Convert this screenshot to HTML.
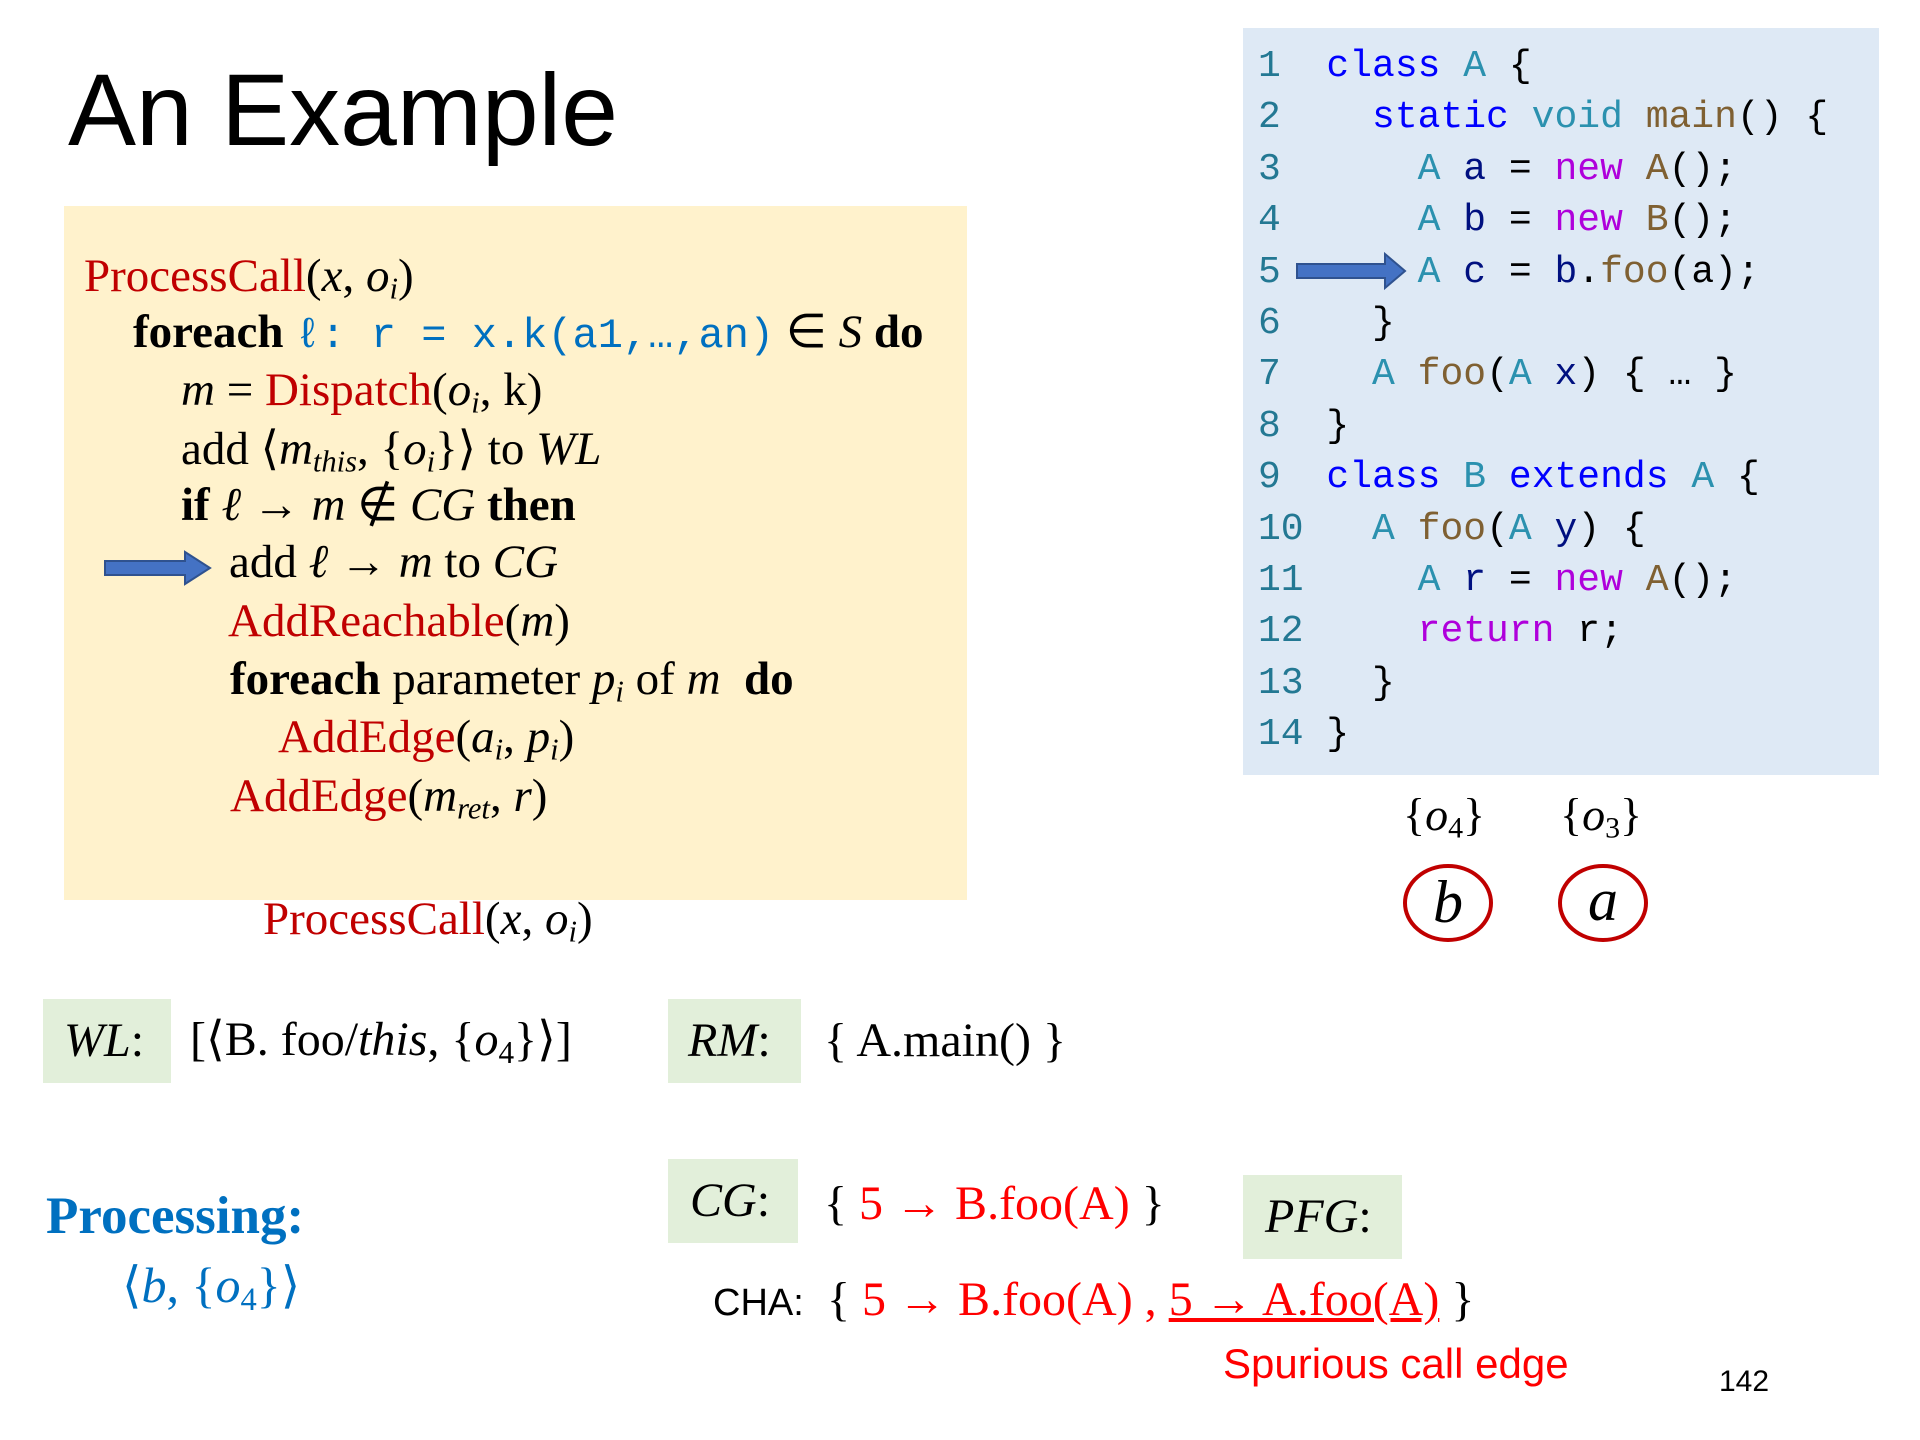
<!DOCTYPE html>
<html><head><meta charset="utf-8">
<style>
body{margin:0;width:1920px;height:1440px;background:#fff;position:relative;overflow:hidden;font-family:"Liberation Serif",serif;}
.a{position:absolute;white-space:nowrap;}
.s{font-family:"Liberation Sans",sans-serif;}
.m{font-family:"Liberation Mono",monospace;}
.r{color:#c00000;}
.i{font-style:italic;}
.b{font-weight:bold;}
.cb{color:#0070c0;}
sub{font-size:0.65em;vertical-align:-0.25em;line-height:0;}
.box{position:absolute;}
.code{position:absolute;left:1258px;font-family:"Liberation Mono",monospace;font-size:38px;line-height:51.4px;white-space:pre;color:#000;}
.n{color:#237893}.k{color:#0000ff}.t{color:#2b91af}.f{color:#7f6032}.p{color:#af00db}.v{color:#001080}
.lbl{position:absolute;background:#e2efda;}
</style></head><body>
<div class="a s" style="left:68px;top:50px;font-size:102px;line-height:120px;color:#000;">An Example</div>

<div class="box" style="left:64px;top:206px;width:903px;height:694px;background:#fff2cc;"></div>
<div style="position:absolute;left:0;top:0;font-size:47px;line-height:52px;">
<div class="a" style="left:84px;top:250px;"><span class="r">ProcessCall</span>(<span class="i">x</span>, <span class="i">o<sub>i</sub></span>)</div>
<div class="a" style="left:133px;top:306px;"><span class="b">foreach</span> <span class="m cb" style="font-size:42px">ℓ: r = x.k(a1,…,an)</span> ∈ <span class="i">S</span> <span class="b">do</span></div>
<div class="a" style="left:181px;top:364px;"><span class="i">m</span> = <span class="r">Dispatch</span>(<span class="i">o<sub>i</sub></span>, k)</div>
<div class="a" style="left:181px;top:423px;">add ⟨<span class="i">m<sub>this</sub></span>, {<span class="i">o<sub>i</sub></span>}⟩ to <span class="i">WL</span></div>
<div class="a" style="left:181px;top:479px;"><span class="b">if</span> <span class="i">ℓ</span> → <span class="i">m</span> ∉ <span class="i">CG</span> <span class="b">then</span></div>
<div class="a" style="left:229px;top:536px;">add <span class="i">ℓ</span> → <span class="i">m</span> to <span class="i">CG</span></div>
<div class="a" style="left:228px;top:595px;"><span class="r">AddReachable</span>(<span class="i">m</span>)</div>
<div class="a" style="left:230px;top:653px;"><span class="b">foreach</span> parameter <span class="i">p<sub>i</sub></span> of <span class="i">m</span>&nbsp; <span class="b">do</span></div>
<div class="a" style="left:278px;top:711px;"><span class="r">AddEdge</span>(<span class="i">a<sub>i</sub></span>, <span class="i">p<sub>i</sub></span>)</div>
<div class="a" style="left:230px;top:770px;"><span class="r">AddEdge</span>(<span class="i">m<sub>ret</sub></span>, <span class="i">r</span>)</div>
<div class="a" style="left:263px;top:893px;"><span class="r">ProcessCall</span>(<span class="i">x</span>, <span class="i">o<sub>i</sub></span>)</div>
</div>
<svg class="a" style="left:100px;top:548px" width="120" height="40"><polygon points="5,13 85,13 85,4 110,20 85,36 85,27 5,27" fill="#4472c4" stroke="#2f528f" stroke-width="2"/></svg>

<div class="box" style="left:1243px;top:28px;width:636px;height:747px;background:#dee9f5;"></div>
<div class="code" style="top:41px;"><span class="n">1</span>  <span class="k">class</span> <span class="t">A</span> {
<span class="n">2</span>    <span class="k">static</span> <span class="t">void</span> <span class="f">main</span>() {
<span class="n">3</span>      <span class="t">A</span> <span class="v">a</span> = <span class="p">new</span> <span class="f">A</span>();
<span class="n">4</span>      <span class="t">A</span> <span class="v">b</span> = <span class="p">new</span> <span class="f">B</span>();
<span class="n">5</span>      <span class="t">A</span> <span class="v">c</span> = <span class="v">b</span>.<span class="f">foo</span>(a);
<span class="n">6</span>    }
<span class="n">7</span>    <span class="t">A</span> <span class="f">foo</span>(<span class="t">A</span> <span class="v">x</span>) { … }
<span class="n">8</span>  }
<span class="n">9</span>  <span class="k">class</span> <span class="t">B</span> <span class="k">extends</span> <span class="t">A</span> {
<span class="n">10</span>   <span class="t">A</span> <span class="f">foo</span>(<span class="t">A</span> <span class="v">y</span>) {
<span class="n">11</span>     <span class="t">A</span> <span class="v">r</span> = <span class="p">new</span> <span class="f">A</span>();
<span class="n">12</span>     <span class="p">return</span> r;
<span class="n">13</span>   }
<span class="n">14</span> }</div>
<svg class="a" style="left:1293px;top:250px" width="120" height="42"><polygon points="4,14 92,14 92,4 112,21 92,38 92,28 4,28" fill="#4472c4" stroke="#2f528f" stroke-width="2"/></svg>

<div class="a" style="left:1403px;top:790px;font-size:46px;line-height:50px;">{<span class="i">o</span><sub>4</sub>}</div>
<div class="a" style="left:1560px;top:790px;font-size:46px;line-height:50px;">{<span class="i">o</span><sub>3</sub>}</div>
<svg class="a" style="left:1396px;top:858px" width="270" height="95">
<ellipse cx="52" cy="45" rx="43" ry="37" fill="none" stroke="#c00000" stroke-width="4"/>
<ellipse cx="207" cy="45" rx="43" ry="37" fill="none" stroke="#c00000" stroke-width="4"/>
<text x="52" y="64" font-family="Liberation Serif" font-style="italic" font-size="60" text-anchor="middle">b</text>
<text x="207" y="62" font-family="Liberation Serif" font-style="italic" font-size="60" text-anchor="middle">a</text>
</svg>

<div class="lbl" style="left:43px;top:999px;width:128px;height:84px;"></div>
<div class="lbl" style="left:668px;top:999px;width:133px;height:84px;"></div>
<div class="lbl" style="left:668px;top:1159px;width:130px;height:84px;"></div>
<div class="lbl" style="left:1243px;top:1175px;width:159px;height:84px;"></div>

<div style="position:absolute;left:0;top:0;font-size:48px;line-height:54px;">
<div class="a" style="left:64px;top:1014px;"><span class="i">WL</span>:</div>
<div class="a" style="left:190px;top:1013px;">[⟨B. foo/<span class="i">this</span>, {<span class="i">o</span><sub>4</sub>}⟩]</div>
<div class="a" style="left:688px;top:1014px;"><span class="i">RM</span>:</div>
<div class="a" style="left:824px;top:1014px;">{ A.main() }</div>
<div class="a" style="left:690px;top:1174px;"><span class="i">CG</span>:</div>
<div class="a" style="left:824px;top:1177px;">{ <span style="color:#f00">5 → B.foo(A)</span> }</div>
<div class="a" style="left:1265px;top:1190px;"><span class="i">PFG</span>:</div>
<div class="a" style="left:827px;top:1273px;">{ <span style="color:#f00">5 → B.foo(A) , <u>5 → A.foo(A)</u></span> }</div>
</div>
<div class="a s" style="left:713px;top:1281px;font-size:38px;line-height:44px;">CHA:</div>
<div class="a b cb" style="left:46px;top:1187px;font-size:53px;line-height:58px;">Processing:</div>
<div class="a cb" style="left:122px;top:1257px;font-size:50px;line-height:56px;">⟨<span class="i">b</span>, {<span class="i">o</span><sub>4</sub>}⟩</div>
<div class="a s" style="left:1223px;top:1341px;font-size:42px;line-height:46px;color:#f00;">Spurious call edge</div>
<div class="a s" style="left:1719px;top:1366px;font-size:30px;line-height:32px;">142</div>
</body></html>
